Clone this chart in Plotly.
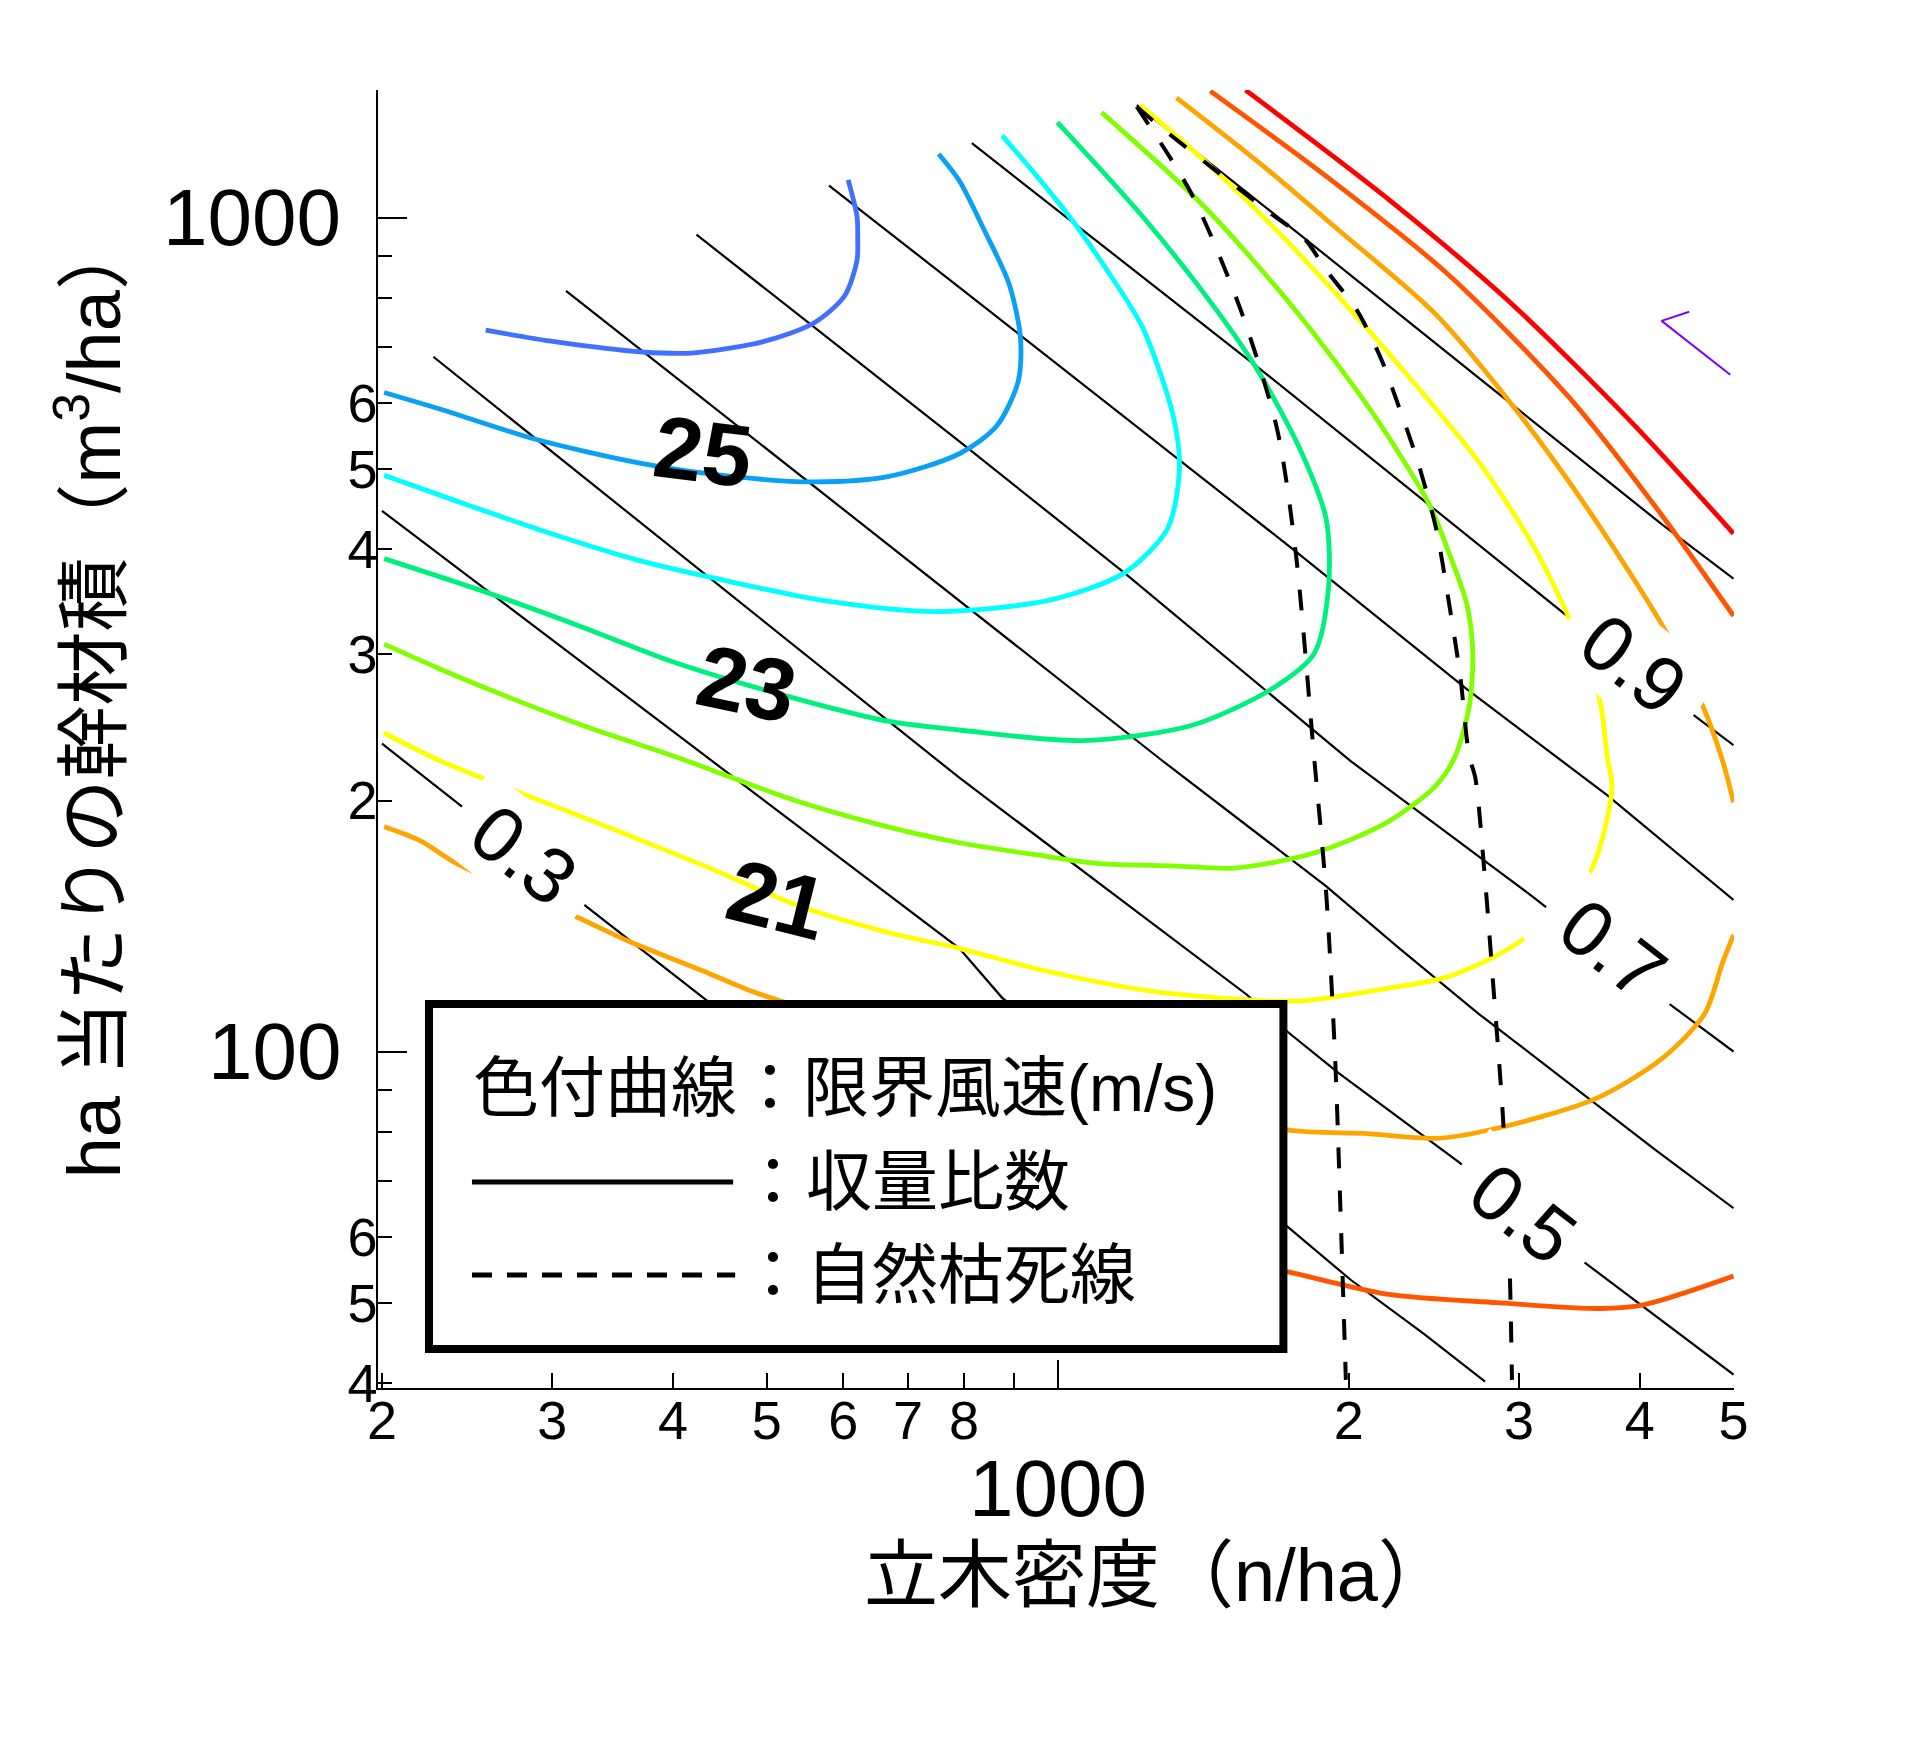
import plotly.graph_objects as go

# ---------------- data ----------------
# critical wind speed contours (m/s): stand density (n/ha) and stem volume (m3/ha)
wind26_n = [256, 299, 372, 418, 498, 560, 602, 620, 621, 620, 607]
wind26_v = [733, 711, 690, 688, 711, 748, 806, 889, 944, 1003, 1110]

wind25_n = [201, 230, 287, 372, 463, 560, 667, 791, 864, 910, 915, 890, 839, 791, 753]
wind25_v = [617, 589, 543, 507, 489, 482, 489, 521, 562, 636, 718, 834, 967, 1107, 1192]

wind24_n = [201, 243, 299, 366, 444, 576, 749, 984, 1172, 1298, 1336, 1317, 1224, 1122, 1028, 942, 876]
wind24_v = [491, 454, 418, 389, 369, 347, 337, 348, 375, 423, 497, 577, 738, 868, 1003, 1137, 1254]

wind23_n = [201, 259, 322, 401, 536, 667, 791, 1059, 1375, 1663, 1841, 1906, 1895, 1788, 1615, 1459, 1224, 999]
wind23_v = [390, 354, 323, 293, 265, 249, 243, 236, 246, 272, 300, 361, 435, 522, 652, 775, 1003, 1301]

wind22_n = [201, 229, 266, 326, 401, 535, 655, 791, 956, 1106, 1317, 1524, 1841, 2186, 2457, 2572,
            2664, 2687, 2649, 2535, 2427, 2130, 1762, 1417, 1110]
wind22_v = [308, 288, 268, 245, 226, 200, 187, 178, 172, 168, 167, 166, 173, 188, 208, 225,
            259, 300, 344, 398, 451, 577, 774, 1031, 1337]

wind21_n = [201, 230, 282, 346, 431, 536, 667, 791, 970, 1260, 1639, 1788, 2186, 2535, 2993, 3542,
            3743, 3700, 3636, 3411, 3108, 2727, 2290, 1895, 1592, 1375, 1217]
wind21_v = [241, 223, 203, 185, 167, 150, 139, 133, 125, 118, 115, 115, 119, 123, 135, 163,
            207, 226, 264, 323, 403, 509, 651, 835, 1031, 1208, 1364]

wind20_upper_n = [1327, 1615, 1950, 2459, 3016, 3592, 4269, 4632, 4867, 5000]
wind20_upper_v = [1392, 1164, 967, 766, 577, 435, 317, 262, 224, 199]
wind20_lower_n = [5000, 4873, 4667, 4213, 3592, 2803, 2463, 2069, 1722, 517, 484, 429, 358, 318, 239, 219, 201]
wind20_lower_v = [138, 128, 111, 98.0, 87.7, 80.6, 78.7, 79.8, 80.6, 115, 118, 125, 136, 145, 168, 179, 186]

wind19_upper_n = [1438, 1893, 2531, 3387, 4213, 5000]
wind19_upper_v = [1418, 1122, 856, 607, 440, 333]
wind19_lower_n = [5000, 4036, 3642, 2844, 2189, 1722, 1615]
wind19_lower_v = [53.8, 49.7, 49.2, 50.0, 51.2, 54.5, 55.2]

wind18_n = [1564, 2189, 2924, 3918, 5000]
wind18_v = [1422, 1056, 795, 569, 418]

wind17_n = [4499, 4213, 4961]
wind17_v = [771, 752, 648]

# natural thinning lines
thin1_n = [1207, 1375, 1546, 1687, 1762, 1841, 1895, 1936, 1962, 1986]
thin1_v = [1358, 1068, 775, 556, 398, 226, 155, 98.1, 63.0, 40.4]
thin2_n = [1207, 1279, 1459, 1663, 1799, 1895, 2038, 2160, 2257, 2358, 2463, 2532, 2608, 2664,
           2703, 2764, 2823, 2887, 2930, 2950]
thin2_v = [1358, 1283, 1137, 1010, 944, 865, 775, 677, 590, 509, 423, 352, 282, 226,
           213, 163, 119, 83.6, 58.1, 40.4]

# yield-ratio (Ry) isolines
ry10_n = [1207, 1687, 2687, 4213, 5000]
ry10_v = [1364, 1003, 651, 429, 369]
ry09_n = [815, 1639, 3441, 4551, 5000]
ry09_v = [1228, 651, 326, 253, 233]
ry08_n = [580, 791, 1762, 2649, 3700, 5000]
ry08_v = [1092, 825, 398, 272, 203, 152]
ry07_n = [423, 791, 1172, 2009, 3108, 4294, 5000]
ry07_v = [954, 539, 375, 223, 153, 114, 100]
ry06_n = [310, 1278, 1893, 2256, 2725, 4154, 5000]
ry06_v = [817, 224, 158, 133, 111, 76.2, 64.9]
ry05_n = [226, 791, 1569, 1722, 1951, 2595, 3511, 5000]
ry05_v = [681, 213, 117, 106, 94.3, 73.8, 55.8, 41.0]
ry04_n = [200, 791, 876, 1722, 2007, 2390, 2767]
ry04_v = [445, 133, 116, 61.9, 53.3, 45.9, 40.2]
ry03_n = [200, 247, 326, 434, 827]
ry03_v = [234, 193, 149, 115, 64.5]

# axis ticks
x_tickvals = [200, 300, 400, 500, 600, 700, 800, 900, 2000, 3000, 4000, 5000]
x_ticktext = ["2", "3", "4", "5", "6", "7", "8", "", "2", "3", "4", "5"]
x_major = [1000]
y_tickvals = [40, 50, 60, 70, 80, 90, 200, 300, 400, 500, 600, 700, 800, 900]
y_ticktext = ["4", "5", "6", "", "", "", "2", "3", "4", "5", "6", "", "", ""]
y_major = [100, 1000]

# labels
wind_labels = ["25", "23", "21"]
ry_labels = ["0.3", "0.5", "0.7", "0.9"]

# ---------------- figure ----------------
LAT = "Liberation Sans, Arial, sans-serif"
MIX = "Liberation Sans, Noto Sans CJK JP, sans-serif"

fig = go.Figure()


def add_line(xs, ys, color, width, dash="solid", shape="spline"):
    fig.add_trace(go.Scatter(x=xs, y=ys, mode="lines",
                             line=dict(color=color, width=width, dash=dash, shape=shape,
                                       smoothing=0.8),
                             hoverinfo="skip", showlegend=False))


# Ry lines (black, thin)
for xs, ys in [(ry10_n, ry10_v), (ry09_n, ry09_v), (ry08_n, ry08_v), (ry07_n, ry07_v),
               (ry06_n, ry06_v), (ry05_n, ry05_v), (ry04_n, ry04_v), (ry03_n, ry03_v)]:
    add_line(xs, ys, "black", 2.2, shape="linear")

# coloured wind-speed contours
CW = 4.8
add_line(wind26_n, wind26_v, "#4070ff", CW)
add_line(wind25_n, wind25_v, "#0aa0f5", CW)
add_line(wind24_n, wind24_v, "#00ffff", CW)
add_line(wind23_n, wind23_v, "#00f080", CW)
add_line(wind22_n, wind22_v, "#80ff00", CW)
add_line(wind21_n, wind21_v, "#ffff00", CW)
add_line(wind20_upper_n, wind20_upper_v, "#ffa500", CW)
add_line(wind20_lower_n, wind20_lower_v, "#ffa500", CW)
add_line(wind19_upper_n, wind19_upper_v, "#ff5500", CW)
add_line(wind19_lower_n, wind19_lower_v, "#ff5500", CW)
add_line(wind18_n, wind18_v, "#ff0000", CW)
add_line(wind17_n, wind17_v, "#8000ff", 2, shape="linear")

# natural thinning lines (dashed)
add_line(thin1_n, thin1_v, "black", 4, dash="21px,22px")
add_line(thin2_n, thin2_v, "black", 4, dash="21px,22px")

axis_common = dict(type="log", showgrid=False, zeroline=False, showline=True,
                   linecolor="black", linewidth=1.5, ticks="inside", tickwidth=1.5,
                   tickcolor="black", tickmode="array", automargin=False,
                   tickfont=dict(family=LAT, size=54, color="black"))

fig.update_xaxes(range=[2.29689, 3.69946], tickvals=x_tickvals, ticktext=x_ticktext, ticklen=15,
                 ticklabelstandoff=-16,
                 minor=dict(tickmode="array", tickvals=x_major, ticks="inside", ticklen=28,
                            tickwidth=1.5, tickcolor="black", showgrid=False),
                 **axis_common)
fig.update_yaxes(range=[1.59664, 3.1530], tickvals=y_tickvals, ticktext=y_ticktext, ticklen=14,
                 ticklabelstandoff=-12,
                 minor=dict(tickmode="array", tickvals=y_major, ticks="inside", ticklen=29,
                            tickwidth=1.5, tickcolor="black", showgrid=False),
                 **axis_common)

ann = []
# big major tick labels
ann.append(dict(x=3, xref="x", y=-0.0771, yref="paper", text="1000", showarrow=False,
                xanchor="center", yanchor="middle", font=dict(family=LAT, size=80, color="black")))
for val, txt in zip([3, 2], ["1000", "100"]):
    ann.append(dict(x=-0.0258, xref="paper", y=val, yref="y", text=txt, showarrow=False,
                    xanchor="right", yanchor="middle", font=dict(family=LAT, size=80, color="black")))

# axis titles
ann.append(dict(x=0.5755, xref="paper", y=-0.1441, yref="paper", text="立木密度（n/ha）",
                showarrow=False, xanchor="center", yanchor="middle",
                font=dict(family=MIX, size=74, color="black")))
ann.append(dict(x=-0.2135, xref="paper", y=0.5325, yref="paper",
                text="ha 当たりの幹材積（m<sup>3</sup>/ha）", textangle=-90,
                showarrow=False, xanchor="center", yanchor="middle",
                font=dict(family=MIX, size=74, color="black")))

# wind-speed labels (bold, slightly rotated)
wind_pos = [(0.2398, 0.7213, 7), (0.2719, 0.5429, 12), (0.2944, 0.3761, 14)]
for txt, (px, py, ang) in zip(wind_labels, wind_pos):
    ann.append(dict(x=px, xref="paper", y=py, yref="paper", text="<b>%s</b>" % txt,
                    textangle=ang, showarrow=False, xanchor="center", yanchor="middle",
                    font=dict(family=LAT, size=88, color="black")))

# Ry labels with white background (gaps in lines)
ry_pos = [(0.1077, 0.4108), (0.8447, 0.1341), (0.9104, 0.3383), (0.9259, 0.5580)]
for txt, (px, py) in zip(ry_labels, ry_pos):
    ann.append(dict(x=px, xref="paper", y=py, yref="paper", text="\u00a0" + txt + "\u00a0",
                    textangle=38, showarrow=False, xanchor="center", yanchor="middle",
                    bgcolor="white", borderpad=2,
                    font=dict(family=LAT, size=78, color="black")))

# legend box
shapes = [
    dict(type="rect", xref="paper", yref="paper", x0=0.0376, x1=0.6677, y0=0.0301, y1=0.2959,
         line=dict(color="black", width=8), fillcolor="white", layer="above"),
    dict(type="line", xref="paper", yref="paper", x0=0.0693, x1=0.2619, y0=0.1588, y1=0.1588,
         line=dict(color="black", width=5), layer="above"),
    dict(type="line", xref="paper", yref="paper", x0=0.0693, x1=0.2634, y0=0.0871, y1=0.0871,
         line=dict(color="black", width=5, dash="20px,15px"), layer="above"),
]
ann.append(dict(x=0.0686, xref="paper", y=0.2312, yref="paper", text="色付曲線：限界風速(m/s)",
                showarrow=False, xanchor="left", yanchor="middle",
                font=dict(family=MIX, size=66, color="black")))
ann.append(dict(x=0.2656, xref="paper", y=0.1588, yref="paper", text="：収量比数",
                showarrow=False, xanchor="left", yanchor="middle",
                font=dict(family=MIX, size=66, color="black")))
ann.append(dict(x=0.2656, xref="paper", y=0.0871, yref="paper", text="：自然枯死線",
                showarrow=False, xanchor="left", yanchor="middle",
                font=dict(family=MIX, size=66, color="black")))

# page body has an 8px margin: size the figure to sit exactly in the window
fig.update_layout(width=1901, height=1734, margin=dict(l=370, r=175, t=82, b=354),
                  plot_bgcolor="white", paper_bgcolor="white", showlegend=False,
                  annotations=ann, shapes=shapes)

fig.write_html("out.html")
